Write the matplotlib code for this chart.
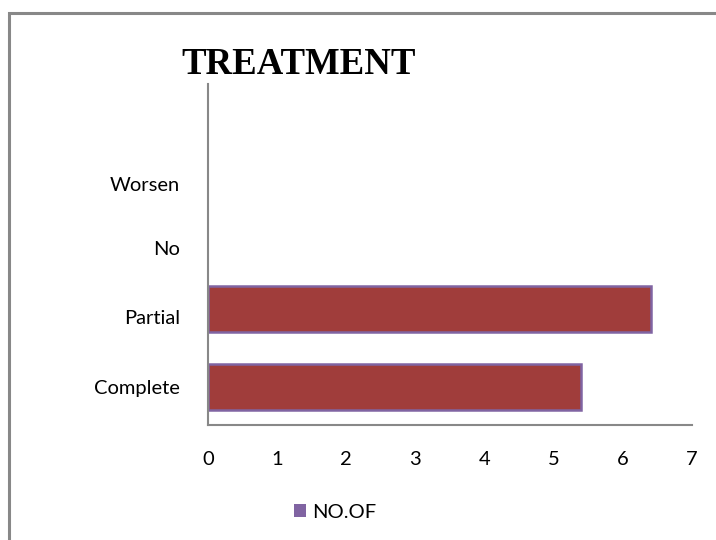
import matplotlib.pyplot as plt
from matplotlib.patches import Rectangle, Patch

# chart data
categories = ['Complete', 'Partial', 'No', 'Worsen']
counts = [5.4, 6.4, 0, 0]
x_ticks = [0, 1, 2, 3, 4, 5, 6, 7]
series_name = 'NO.OF'
title = 'TREATMENT'

bar_color = '#A03D3B'
edge_color = '#8064A2'
axis_gray = '#888888'
label_font = ['Lato', 'DejaVu Sans']

fig = plt.figure(figsize=(7.16, 5.40), dpi=100)

# outer frame of the chart object (right/bottom edges fall outside the picture)
fig.patches.append(Rectangle((9 / 716, -0.1), 1.2, (540 - 13) / 540 + 0.1,
                             transform=fig.transFigure, fill=False,
                             edgecolor=axis_gray, linewidth=2.2))

ax = fig.add_axes([208 / 716, 115 / 540, 484 / 716, 341 / 540])
ypos = list(range(len(categories)))
# empty categories get no outline, like the original
widths = [1.8 if c > 0 else 0 for c in counts]
ax.barh(ypos, counts, height=0.59, color=bar_color,
        edgecolor=edge_color, linewidth=widths)

ax.set_xlim(0, 7)
ax.set_ylim(-0.49, 3.885)
ax.set_xticks(x_ticks)
ax.set_xticklabels([str(t) for t in x_ticks], family=label_font, fontsize=14.5)
# category labels sit a little tighter than the bars, as in the original
ax.set_yticks([0, 0.9, 1.78, 2.6])
ax.set_yticklabels(categories, family=label_font, fontsize=14.5)
ax.tick_params(axis='x', length=0, pad=19)
ax.tick_params(axis='y', length=0, pad=20)

for side in ['top', 'right']:
    ax.spines[side].set_visible(False)
for side in ['left', 'bottom']:
    ax.spines[side].set_color(axis_gray)
    ax.spines[side].set_linewidth(1.5)

fig.text(299 / 716, 1 - 65 / 540, title, ha='center', va='center',
         family='Liberation Serif', fontweight='bold', fontsize=26.5)

handle = Patch(facecolor=edge_color, edgecolor='none')
fig.legend([handle], [series_name], loc='center', bbox_to_anchor=(335 / 716, 1 - 512 / 540),
           frameon=False, prop={'family': label_font, 'size': 14.5},
           handlelength=0.6, handleheight=0.6, handletextpad=0.3)

fig.savefig('out.png', dpi=100)
